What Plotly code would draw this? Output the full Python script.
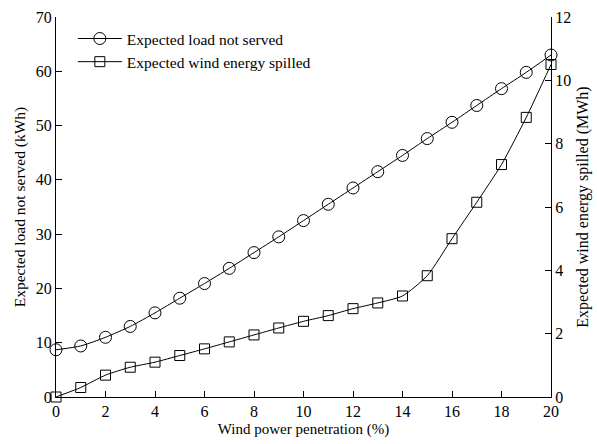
import plotly.graph_objects as go

penetration = list(range(0, 21))
load_not_served = [8.7, 9.4, 11.0, 13.0, 15.5, 18.2, 20.9, 23.7, 26.6, 29.5, 32.5,
                   35.5, 38.5, 41.5, 44.5, 47.6, 50.6, 53.7, 56.8, 59.8, 63.0]
wind_spilled = [0.0, 0.30, 0.69, 0.94, 1.10, 1.31, 1.52, 1.74, 1.96, 2.18, 2.39,
                2.57, 2.79, 2.97, 3.19, 3.83, 5.0, 6.15, 7.34, 8.83, 10.5]
x_ticks = list(range(0, 21, 2))
left_ticks = list(range(0, 71, 10))
right_ticks = list(range(0, 13, 2))

font = "Liberation Serif, Times New Roman, serif"

fig = go.Figure()
fig.add_trace(go.Scatter(
    x=penetration, y=load_not_served, name="Expected load not served",
    mode="lines+markers", line=dict(color="black", width=1, shape="spline", smoothing=0.6),
    marker=dict(symbol="circle-open", size=12, color="black", line=dict(width=1)),
    cliponaxis=False))
fig.add_trace(go.Scatter(
    x=penetration, y=wind_spilled, name="Expected wind energy spilled", yaxis="y2",
    mode="lines+markers", line=dict(color="black", width=1, shape="spline", smoothing=0.6),
    marker=dict(symbol="square-open", size=10, color="black", line=dict(width=1)),
    cliponaxis=False))

axis_common = dict(showgrid=False, zeroline=False, showline=True, linecolor="black", linewidth=1,
                   ticks="inside", ticklen=6, tickcolor="black",
                   tickfont=dict(family=font, size=16, color="black"))

fig.update_layout(
    width=597, height=444,
    margin=dict(l=56, r=44, t=9, b=46),
    paper_bgcolor="white", plot_bgcolor="white",
    font=dict(family=font, size=15, color="black"),
    xaxis=dict(range=[0, 20], tickvals=x_ticks,
               title=dict(text="Wind power penetration (%)", font=dict(family=font, size=15), standoff=4),
               **axis_common),
    yaxis=dict(range=[0, 70], tickvals=left_ticks,
               title=dict(text="Expected load not served (kWh)", font=dict(family=font, size=15.5), standoff=6),
               **axis_common),
    yaxis2=dict(range=[0, 12], tickvals=right_ticks, overlaying="y", side="right",
                title=dict(text="Expected wind energy spilled (MWh)", font=dict(family=font, size=16), standoff=6),
                **axis_common),
    legend=dict(x=0.034, y=0.987, xanchor="left", yanchor="top", bgcolor="rgba(0,0,0,0)",
                font=dict(family=font, size=15.5), itemwidth=44),
    showlegend=True,
)

fig.write_html("out.html")
